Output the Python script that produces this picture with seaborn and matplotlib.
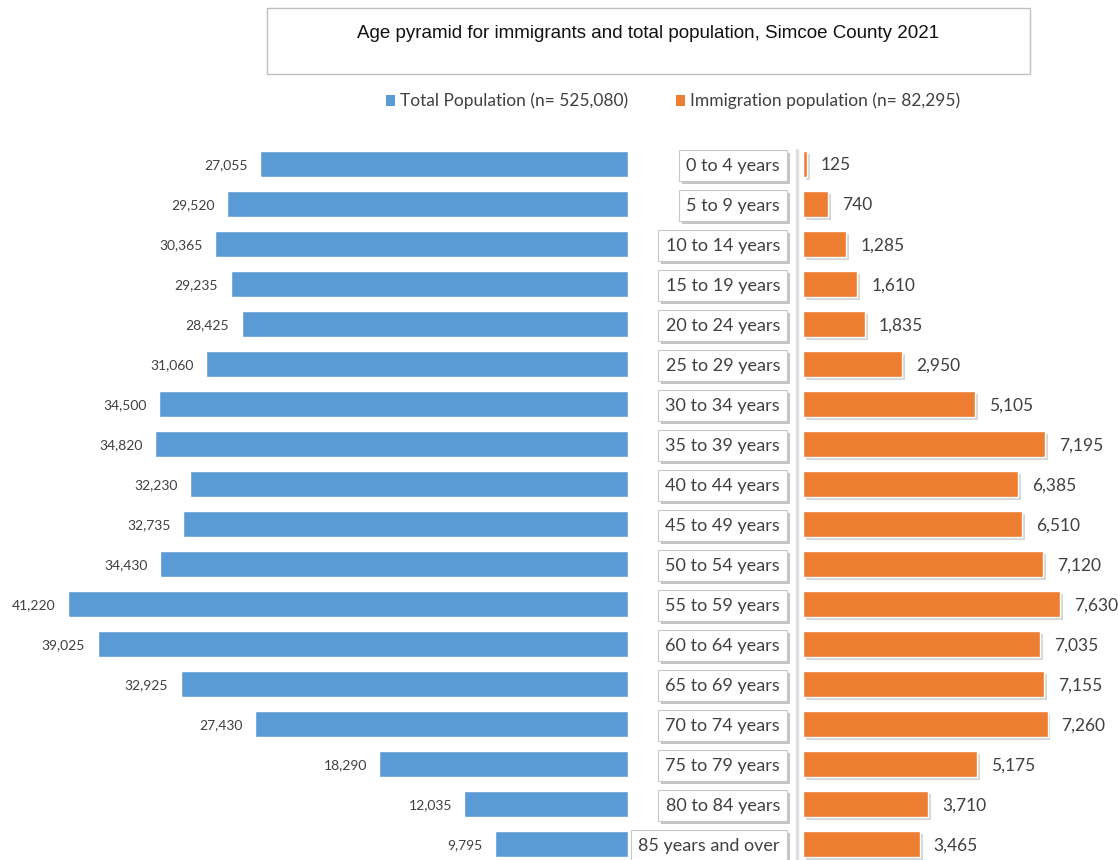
import matplotlib
matplotlib.use("Agg")
import matplotlib.pyplot as plt
import matplotlib.patheffects as pe
from matplotlib.transforms import blended_transform_factory
from matplotlib.patches import Rectangle
import seaborn as sns
import pandas as pd

age_groups = ["0 to 4 years", "5 to 9 years", "10 to 14 years", "15 to 19 years",
              "20 to 24 years", "25 to 29 years", "30 to 34 years", "35 to 39 years",
              "40 to 44 years", "45 to 49 years", "50 to 54 years", "55 to 59 years",
              "60 to 64 years", "65 to 69 years", "70 to 74 years", "75 to 79 years",
              "80 to 84 years", "85 years and over"]
total_pop = [27055, 29520, 30365, 29235, 28425, 31060, 34500, 34820, 32230,
             32735, 34430, 41220, 39025, 32925, 27430, 18290, 12035, 9795]
immigrant_pop = [125, 740, 1285, 1610, 1835, 2950, 5105, 7195, 6385,
                 6510, 7120, 7630, 7035, 7155, 7260, 5175, 3710, 3465]

title = "Age pyramid for immigrants and total population, Simcoe County 2021"
legend_total = "Total Population (n= 525,080)"
legend_imm = "Immigration population (n= 82,295)"

BLUE = "#5B9BD5"
ORANGE = "#ED7D31"
TEXT = "#404040"

sns.set_theme(style="white")
plt.rcParams["font.family"] = ["Lato", "DejaVu Sans"]

df = pd.DataFrame({"age": age_groups, "total": total_pop, "imm": immigrant_pop})

W, H = 1118, 860
fig = plt.figure(figsize=(W / 100, H / 100), dpi=100)

def px_rect(x0, x1, y_top, y_bot):
    return [x0 / W, 1 - y_bot / H, (x1 - x0) / W, (y_bot - y_top) / H]

# row i is centred at pixel 164 + 40 i
y_top_px, y_bot_px = 144, 860
ylim = (17.4, -0.5)

# left panel: total population, bars grow leftwards from x=628
ax_l = fig.add_axes(px_rect(0, 628, y_top_px, y_bot_px))
sns.barplot(data=df, x="total", y="age", order=age_groups, orient="h",
            color=BLUE, saturation=1, width=0.65, ax=ax_l)
ax_l.set_xlim(628 / 0.01359, 0)
ax_l.set_ylim(*ylim)
for i, v in enumerate(total_pop):
    ax_l.annotate(f"{v:,}", xy=(v, i), xytext=(-9, 0), textcoords="offset points",
                  ha="right", va="center_baseline", fontsize=10, color=TEXT)

# right panel: immigrant population, bars grow rightwards from x=803
ax_r = fig.add_axes(px_rect(803, 1118, y_top_px, y_bot_px))
sns.barplot(data=df, x="imm", y="age", order=age_groups, orient="h",
            color=ORANGE, saturation=1, width=0.65, ax=ax_r)
ax_r.set_xlim(0, 315 / 0.0337)
ax_r.set_ylim(*ylim)
for bar in ax_r.patches:
    bar.set_path_effects([pe.SimplePatchShadow(offset=(2, -2), shadow_rgbFace="#9a9a9a", alpha=0.4),
                          pe.Normal()])
for i, v in enumerate(immigrant_pop):
    ax_r.annotate(f"{v:,}", xy=(v, i), xytext=(10, 0), textcoords="offset points",
                  ha="left", va="center_baseline", fontsize=12.5, color=TEXT)

for ax in (ax_l, ax_r):
    ax.set_xlabel("")
    ax.set_ylabel("")
    ax.set_xticks([])
    ax.set_yticks([])
    for s in ax.spines.values():
        s.set_visible(False)
    ax.patch.set_alpha(0)

# faint axis line at the base of the right bars
fig.add_artist(plt.Line2D([797 / W, 797 / W], [0, 1 - 150 / H], color="#e0e0e0", lw=2.5))

# age group labels in boxed tags between the panels
trans = blended_transform_factory(fig.transFigure, ax_r.transData)
for i, lab in enumerate(age_groups):
    t = ax_r.text(780 / W, i, lab, transform=trans, ha="right", va="center_baseline",
                  fontsize=13, color=TEXT, clip_on=False,
                  bbox=dict(boxstyle="square,pad=0.4", fc="white", ec="#c8c8c8", lw=0.8))
    t.get_bbox_patch().set_path_effects([
        pe.SimplePatchShadow(offset=(2, -2), shadow_rgbFace="#8a8a8a", alpha=0.5),
        pe.Normal()])

# title box
fig.add_artist(Rectangle((267 / W, 1 - 74 / H), (1030 - 267) / W, 66 / H,
                         transform=fig.transFigure, fc="white", ec="#bfbfbf", lw=1))
fig.text(648 / W, 1 - 34 / H, title, ha="center", va="center", fontsize=13.5,
         color="#111111", family=["Liberation Sans", "DejaVu Sans"])

# legend
fig.add_artist(Rectangle((386 / W, 1 - 106 / H), 9 / W, 11 / H,
                         transform=fig.transFigure, fc=BLUE, ec="none"))
fig.text(400 / W, 1 - 101 / H, legend_total, ha="left", va="center", fontsize=12.5, color=TEXT)
fig.add_artist(Rectangle((676 / W, 1 - 106 / H), 9 / W, 11 / H,
                         transform=fig.transFigure, fc=ORANGE, ec="none"))
fig.text(690 / W, 1 - 101 / H, legend_imm, ha="left", va="center", fontsize=12.5, color=TEXT)

fig.savefig("out.png", dpi=100, facecolor="white")
